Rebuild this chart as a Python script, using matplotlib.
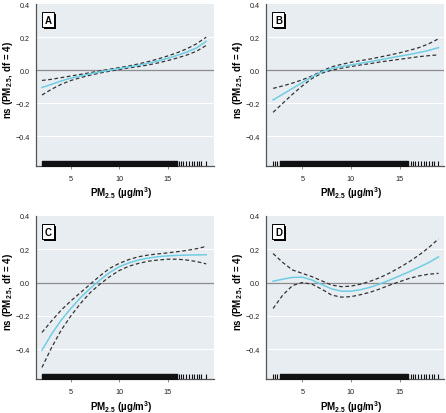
import matplotlib.pyplot as plt
import matplotlib.patheffects as pe

plt.rcParams['font.family'] = ['Liberation Sans', 'DejaVu Sans']
plt.rcParams['mathtext.fontset'] = 'custom'
plt.rcParams['mathtext.rm'] = 'Liberation Sans'
plt.rcParams['mathtext.bf'] = 'Liberation Sans:bold'

# PM2.5 grid (ug/m3)
x = [2, 3, 4, 5, 6, 7, 8, 9, 10, 11, 12, 13, 14, 15, 16, 17, 18, 19]

# Panel A
a_fit = [-0.105, -0.085, -0.065, -0.048, -0.035, -0.022, -0.01, 0.0, 0.01, 0.02, 0.03, 0.042, 0.056, 0.072, 0.09, 0.11, 0.135, 0.175]
a_up = [-0.062, -0.055, -0.045, -0.035, -0.025, -0.015, -0.004, 0.006, 0.016, 0.026, 0.038, 0.052, 0.068, 0.086, 0.106, 0.13, 0.16, 0.2]
a_lo = [-0.15, -0.115, -0.085, -0.062, -0.045, -0.03, -0.017, -0.006, 0.004, 0.014, 0.022, 0.032, 0.044, 0.058, 0.074, 0.092, 0.115, 0.15]

# Panel B
b_fit = [-0.18, -0.145, -0.11, -0.075, -0.04, -0.01, 0.01, 0.022, 0.032, 0.042, 0.052, 0.063, 0.074, 0.085, 0.095, 0.107, 0.12, 0.137]
b_up = [-0.11, -0.095, -0.078, -0.058, -0.035, -0.005, 0.02, 0.035, 0.048, 0.058, 0.068, 0.08, 0.092, 0.105, 0.12, 0.137, 0.16, 0.19]
b_lo = [-0.255, -0.2, -0.145, -0.095, -0.05, -0.018, 0.0, 0.012, 0.022, 0.032, 0.04, 0.05, 0.058, 0.066, 0.074, 0.082, 0.088, 0.093]

# Panel C
c_fit = [-0.406, -0.31, -0.225, -0.155, -0.09, -0.035, 0.015, 0.06, 0.095, 0.118, 0.135, 0.147, 0.155, 0.16, 0.163, 0.165, 0.166, 0.167]
c_up = [-0.30, -0.23, -0.165, -0.11, -0.06, -0.01, 0.04, 0.085, 0.115, 0.138, 0.155, 0.165, 0.172, 0.178, 0.185, 0.193, 0.203, 0.217]
c_lo = [-0.51, -0.39, -0.285, -0.2, -0.125, -0.06, -0.01, 0.035, 0.072, 0.098, 0.115, 0.128, 0.135, 0.14, 0.14, 0.135, 0.126, 0.112]

# Panel D
d_fit = [0.008, 0.02, 0.031, 0.032, 0.015, -0.012, -0.038, -0.052, -0.052, -0.043, -0.028, -0.008, 0.015, 0.04, 0.065, 0.092, 0.12, 0.154]
d_up = [0.174, 0.12, 0.075, 0.055, 0.035, 0.01, -0.015, -0.025, -0.022, -0.01, 0.008, 0.03, 0.058, 0.09, 0.125, 0.165, 0.21, 0.262]
d_lo = [-0.156, -0.075, -0.018, 0.0, -0.01, -0.04, -0.075, -0.088, -0.085, -0.073, -0.058, -0.038, -0.015, 0.005, 0.025, 0.04, 0.05, 0.055]

# rug: dense block + separate ticks
rug_dense_ac = (2.0, 16.0)
rug_dense_bd = (2.7, 15.9)
rug_left_bd = [2.0, 2.2, 2.45]
rug_right = [16.2, 16.4, 16.6, 16.9, 17.2, 17.5, 17.7, 18.0, 18.3, 18.5, 19.0]

panels = [
    ('A', a_fit, a_up, a_lo, (1.38, 19.8), [0.0807, 0.5966, 0.399, 0.391], rug_dense_ac, []),
    ('B', b_fit, b_up, b_lo, (1.27, 19.56), [0.5964, 0.5966, 0.399, 0.391], rug_dense_bd, rug_left_bd),
    ('C', c_fit, c_up, c_lo, (1.38, 19.8), [0.0807, 0.082, 0.399, 0.394], rug_dense_ac, []),
    ('D', d_fit, d_up, d_lo, (1.27, 19.56), [0.5964, 0.082, 0.399, 0.394], rug_dense_bd, rug_left_bd),
]

fig = plt.figure(figsize=(4.46, 4.14), dpi=100)

for lab, fit, up, lo, xl, pos, dense, extra in panels:
    ax = fig.add_axes(pos)
    ax.set_facecolor('#e8edf2')
    for yy in [-0.4, -0.2, 0.2]:
        ax.axhline(yy, color='white', lw=0.8, zorder=1)
    ax.axhline(0, color='#8c8c8c', lw=0.9, zorder=2)
    ax.plot(x, up, color='#333333', lw=0.9, ls=(0, (3, 2)), zorder=3)
    ax.plot(x, lo, color='#333333', lw=0.9, ls=(0, (3, 2)), zorder=3)
    ax.plot(x, fit, color='#6fcde3', lw=1.1, zorder=4)

    # rug
    ax.broken_barh([(dense[0], dense[1] - dense[0])], (-0.58, 0.028), color='#111111', zorder=3)
    ax.vlines(extra + rug_right, -0.58, -0.552, color='#111111', lw=0.8, zorder=3)

    ax.set_xlim(*xl)
    ax.set_ylim(-0.58, 0.4)
    ax.set_xticks([5, 10, 15])
    ax.set_yticks([-0.4, -0.2, 0.0, 0.2, 0.4])
    ax.set_yticklabels(['\u22120.4', '\u22120.2', '0.0', '0.2', '0.4'])
    for s in ['top', 'right']:
        ax.spines[s].set_visible(False)
    for s in ['left', 'bottom']:
        ax.spines[s].set_color('#555555')
        ax.spines[s].set_linewidth(0.9)
    ax.tick_params(axis='both', labelsize=5.2, length=2.5, width=0.6, color='#777777', labelcolor='#222222')
    ax.tick_params(axis='x', pad=4)
    ax.tick_params(axis='y', length=0, pad=4.5)

    ax.set_xlabel('PM$_{\\mathbf{2.5}}$ (\u00b5g/m$^\\mathbf{3}$)', fontsize=7, fontweight='bold')
    ax.set_ylabel('ns (PM$_{\\mathbf{2.5}}$, df = 4)', fontsize=7, fontweight='bold')
    ax.xaxis.set_label_coords(0.48, -0.115)
    ax.yaxis.set_label_coords(-0.12, 0.54)

    ax.text(0.05, 0.935, lab, transform=ax.transAxes, fontsize=7, fontweight='bold',
            ha='left', va='top', zorder=6,
            bbox=dict(boxstyle='square,pad=0.25', fc='white', ec='black', lw=0.7,
                      path_effects=[pe.withSimplePatchShadow(offset=(1.2, -1.2), shadow_rgbFace='black', alpha=1)]))

fig.savefig('out.png', dpi=100)
